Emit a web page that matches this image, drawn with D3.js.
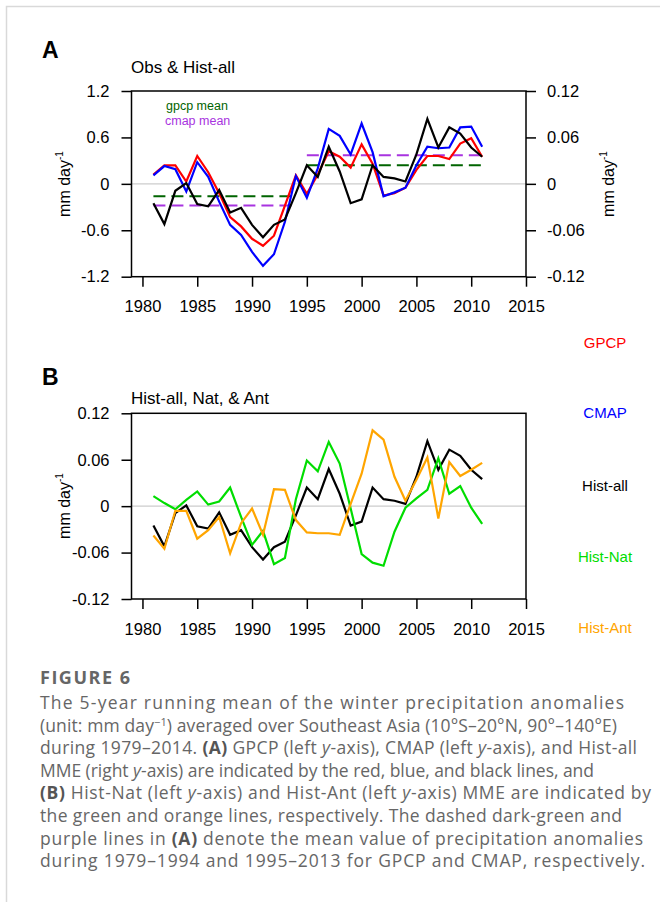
<!DOCTYPE html>
<html>
<head>
<meta charset="utf-8">
<script src="https://cdn.jsdelivr.net/npm/d3@7"></script>
<style>
  body { margin: 0; background: #fff; }
  svg { display: block; }
  .axis text { font-family: "Liberation Sans", Arial, sans-serif; font-size: 16.5px; fill: #000; }
  .axis line { stroke: #000; stroke-width: 1.5; }
  .lab { font-family: "Liberation Sans", Arial, sans-serif; }
  .cap { font-family: "Open Sans", "Noto Sans", sans-serif; fill: #666; }
</style>
</head>
<body>
<svg id="fig" width="660" height="902"></svg>
<script>
// 5-year running means, centred years
const years = [1981, 1982, 1983, 1984, 1985, 1986, 1987, 1988, 1989, 1990,
  1991, 1992, 1993, 1994, 1995, 1996, 1997, 1998, 1999, 2000,
  2001, 2002, 2003, 2004, 2005, 2006, 2007, 2008, 2009, 2010, 2011];

const gpcp = [0.12, 0.24, 0.24, 0.03, 0.36, 0.15, -0.12, -0.43, -0.55, -0.71,
  -0.80, -0.67, -0.28, 0.11, -0.13, 0.12, 0.42, 0.35, 0.21, 0.51,
  0.26, -0.15, -0.12, -0.05, 0.18, 0.36, 0.36, 0.32, 0.52, 0.59, 0.35];

const cmap = [0.11, 0.23, 0.19, -0.10, 0.28, 0.09, -0.23, -0.53, -0.66, -0.88,
  -1.06, -0.91, -0.49, 0.10, -0.18, 0.20, 0.71, 0.62, 0.38, 0.78,
  0.41, -0.16, -0.11, -0.05, 0.24, 0.48, 0.46, 0.47, 0.73, 0.74, 0.48];

const histAll = [-0.025, -0.052, -0.009, 0.001, -0.026, -0.029, -0.008, -0.037, -0.031, -0.053,
  -0.069, -0.053, -0.046, -0.012, 0.024, 0.009, 0.048, 0.016, -0.025, -0.020,
  0.024, 0.009, 0.007, 0.003, 0.038, 0.084, 0.047, 0.073, 0.065, 0.047, 0.035];

const histNat = [0.013, 0.004, -0.004, 0.008, 0.019, 0.002, 0.006, 0.024, -0.014, -0.050,
  -0.032, -0.075, -0.067, 0.009, 0.059, 0.045, 0.083, 0.055, -0.003, -0.062,
  -0.073, -0.077, -0.033, -0.002, 0.010, 0.021, 0.062, 0.016, 0.026, -0.002, -0.023];

const histAnt = [-0.038, -0.055, -0.006, -0.006, -0.042, -0.031, -0.014, -0.061, -0.022, -0.003,
  -0.037, 0.022, 0.021, -0.018, -0.034, -0.035, -0.035, -0.037, 0.003, 0.042,
  0.098, 0.086, 0.038, 0.007, 0.034, 0.063, -0.016, 0.057, 0.039, 0.047, 0.056];

// period means (1979-1994, 1995-2013)
const meanPeriods = [[1981, 1994], [1995, 2011]];
const gpcpMeans = [-0.16, 0.24];
const cmapMeans = [-0.28, 0.37];

const xTicks = [1980, 1985, 1990, 1995, 2000, 2005, 2010, 2015];
const obsTicks = [-1.2, -0.6, 0, 0.6, 1.2];
const modelTicks = [-0.12, -0.06, 0, 0.06, 0.12];

const legendItems = [
  { label: "GPCP", color: "#ff0000", y: 348 },
  { label: "CMAP", color: "#0000ff", y: 418 },
  { label: "Hist-all", color: "#000000", y: 491 },
  { label: "Hist-Nat", color: "#00dd00", y: 562 },
  { label: "Hist-Ant", color: "#ffa500", y: 633 },
];

const captionLines = [
  [["The 5-year running mean of the winter precipitation anomalies"]],
  [["(unit: mm day"], ["\u22121", "sup"], [") averaged over Southeast Asia (10°S\u201320°N, 90°\u2013140°E)"]],
  [["during 1979\u20132014. "], ["(A)", "b"], [" GPCP (left "], ["y", "i"], ["-axis), CMAP (left "], ["y", "i"], ["-axis), and Hist-all"]],
  [["MME (right "], ["y", "i"], ["-axis) are indicated by the red, blue, and black lines, and"]],
  [["(B)", "b"], [" Hist-Nat (left "], ["y", "i"], ["-axis) and Hist-Ant (left "], ["y", "i"], ["-axis) MME are indicated by"]],
  [["the green and orange lines, respectively. The dashed dark-green and"]],
  [["purple lines in "], ["(A)", "b"], [" denote the mean value of precipitation anomalies"]],
  [["during 1979\u20131994 and 1995\u20132013 for GPCP and CMAP, respectively."]],
];
// right end of each caption line
const captionEnds = [624, 617, 637, 594, 651, 622, 643, 645];

const svg = d3.select("#fig");

// outer figure box
svg.append("rect")
  .attr("x", 6.5).attr("y", 6.5)
  .attr("width", 700).attr("height", 1000)
  .attr("fill", "none").attr("stroke", "#d9d9d9").attr("stroke-width", 1.5);

const plotL = 131.5, plotR = 526;
const x = d3.scaleLinear().domain([1979, 2015]).range([plotL, plotR]);

const panels = {
  A: { top: 91, bottom: 276.7 },
  B: { top: 413.3, bottom: 599 },
};

const yObs = d3.scaleLinear().domain([-1.2, 1.2]).range([panels.A.bottom, panels.A.top]);
const yAllA = d3.scaleLinear().domain([-0.12, 0.12]).range([panels.A.bottom, panels.A.top]);
const yB = d3.scaleLinear().domain([-0.12, 0.12]).range([panels.B.bottom, panels.B.top]);

const fmt = d => String(d);

const drawPanel = (p, yLeft, yRight) => {
  // zero line
  svg.append("line")
    .attr("x1", plotL).attr("x2", plotR)
    .attr("y1", yLeft(0)).attr("y2", yLeft(0))
    .attr("stroke", "#cccccc").attr("stroke-width", 1.2);

  svg.append("g")
    .attr("class", "axis")
    .attr("transform", `translate(0,${p.bottom})`)
    .call(d3.axisBottom(x).tickValues(xTicks).tickSize(10).tickPadding(14).tickFormat(fmt))
    .call(g => g.select(".domain").remove());

  svg.append("g")
    .attr("class", "axis")
    .attr("transform", `translate(${plotL},0)`)
    .call(d3.axisLeft(yLeft).tickValues(yLeft === yObs ? obsTicks : modelTicks)
      .tickSize(10).tickPadding(12).tickFormat(fmt))
    .call(g => g.select(".domain").remove());

  if (yRight) {
    svg.append("g")
      .attr("class", "axis")
      .attr("transform", `translate(${plotR},0)`)
      .call(d3.axisRight(yRight).tickValues(modelTicks).tickSize(10).tickPadding(11).tickFormat(fmt))
      .call(g => g.select(".domain").remove());
  }
};

drawPanel(panels.A, yObs, yAllA);
drawPanel(panels.B, yB, null);

const addSeries = (values, yScale, color) => {
  svg.append("path")
    .datum(values)
    .attr("fill", "none")
    .attr("stroke", color)
    .attr("stroke-width", 2.2)
    .attr("stroke-linejoin", "miter")
    .attr("d", d3.line().x((d, i) => x(years[i])).y(d => yScale(d)));
};

const addMeans = (means, color) => {
  svg.append("g")
    .selectAll("line")
    .data(means)
    .join("line")
      .attr("x1", (d, i) => x(meanPeriods[i][0]))
      .attr("x2", (d, i) => x(meanPeriods[i][1]))
      .attr("y1", d => yObs(d))
      .attr("y2", d => yObs(d))
      .attr("stroke", color)
      .attr("stroke-width", 2)
      .attr("stroke-dasharray", "12,6");
};

// panel A
addMeans(gpcpMeans, "#006400");
addMeans(cmapMeans, "#a833e0");
addSeries(gpcp, yObs, "#ff0000");
addSeries(cmap, yObs, "#0000ff");
addSeries(histAll, yAllA, "#000000");

// panel B
addSeries(histAll, yB, "#000000");
addSeries(histNat, yB, "#00dd00");
addSeries(histAnt, yB, "#ffa500");

// frames
Object.values(panels).forEach(p => {
  svg.append("rect")
    .attr("x", plotL).attr("y", p.top)
    .attr("width", plotR - plotL).attr("height", p.bottom - p.top)
    .attr("fill", "none").attr("stroke", "#000").attr("stroke-width", 1.5);
});

// panel letters and titles
svg.append("text").attr("class", "lab").attr("x", 42).attr("y", 58)
  .attr("font-size", 23).attr("font-weight", "bold").text("A");
svg.append("text").attr("class", "lab").attr("x", 42).attr("y", 385)
  .attr("font-size", 23).attr("font-weight", "bold").text("B");
svg.append("text").attr("class", "lab").attr("x", 131).attr("y", 73)
  .attr("font-size", 17).text("Obs & Hist-all");
svg.append("text").attr("class", "lab").attr("x", 131).attr("y", 404)
  .attr("font-size", 17).text("Hist-all, Nat, & Ant");

// in-plot legend for means
svg.append("text").attr("class", "lab").attr("x", 166).attr("y", 110)
  .attr("font-size", 12.5).attr("fill", "#006400").text("gpcp mean");
svg.append("text").attr("class", "lab").attr("x", 165).attr("y", 124.5)
  .attr("font-size", 12.5).attr("fill", "#a833e0").text("cmap mean");

// y-axis titles
const yTitle = (cx, cy) => {
  const t = svg.append("text").attr("class", "lab")
    .attr("font-size", 16)
    .attr("text-anchor", "middle")
    .attr("transform", `translate(${cx},${cy}) rotate(-90)`);
  t.append("tspan").text("mm day");
  t.append("tspan").attr("font-size", 10).attr("dy", -7).text("-1");
};
yTitle(70, 184);
yTitle(614, 184);
yTitle(70, 506);

// side legend
svg.append("g")
  .selectAll("text")
  .data(legendItems)
  .join("text")
    .attr("class", "lab")
    .attr("x", 605)
    .attr("y", d => d.y)
    .attr("text-anchor", "middle")
    .attr("font-size", 15)
    .attr("fill", d => d.color)
    .text(d => d.label);

// caption
svg.append("text").attr("class", "cap").attr("x", 40).attr("y", 684)
  .attr("font-size", 18).attr("font-weight", "bold").attr("fill", "#555")
  .attr("textLength", 90).attr("lengthAdjust", "spacing")
  .text("FIGURE 6");

captionLines.forEach((segs, li) => {
  const t = svg.append("text").attr("class", "cap")
    .attr("x", 40).attr("y", 709 + li * 22.6)
    .attr("font-size", 17.5)
    .attr("textLength", captionEnds[li] - 40)
    .attr("lengthAdjust", "spacing");
  segs.forEach(([txt, style]) => {
    const s = t.append("tspan").text(txt);
    if (style === "b") s.attr("font-weight", "bold").attr("fill", "#555");
    if (style === "i") s.attr("font-style", "italic");
    if (style === "sup") s.attr("font-size", 11).attr("dy", -6);
    if (style !== "sup" && li === 1 && txt.startsWith(")")) s.attr("dy", 6);
  });
});
</script>
</body>
</html>
